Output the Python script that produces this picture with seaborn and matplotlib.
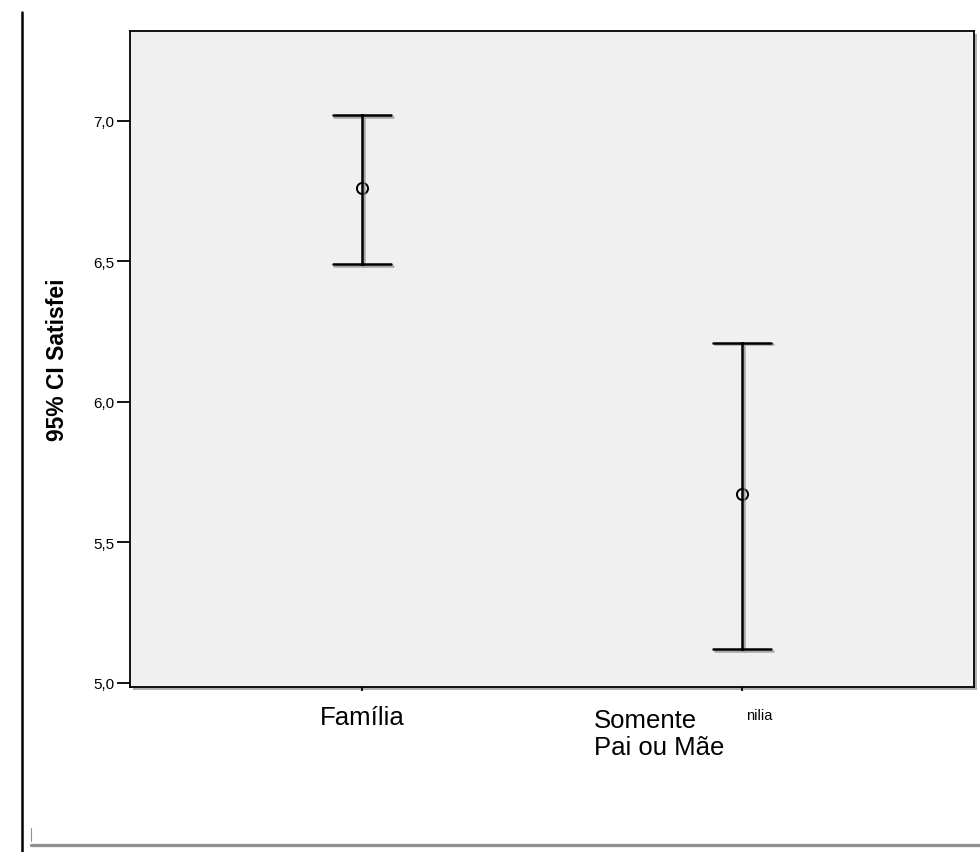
import pandas as pd
import matplotlib
matplotlib.use("Agg")
import matplotlib.pyplot as plt
import matplotlib.patheffects as pe
from matplotlib.patches import Rectangle
from matplotlib.lines import Line2D
from matplotlib.ticker import FuncFormatter
import seaborn as sns

# data (95% CI of "Satisfei" per family type)
groups = ["Família", "Somente\nPai ou Mãe"]
ci_lower = [6.49, 5.12]
means = [6.76, 5.67]
ci_upper = [7.02, 6.21]
y_ticks = [5.0, 5.5, 6.0, 6.5, 7.0]
y_label = "95% CI Satisfei"
stray_text = "nilia"

# long table: lower / mean / upper per group -> median + full range gives mean and CI
rows = []
for g, lo, m, hi in zip(groups, ci_lower, means, ci_upper):
    for v in (lo, m, hi):
        rows.append({"grupo": g, "valor": v})
df = pd.DataFrame(rows)

sns.set_theme(style="white")
plt.rcParams["font.family"] = ["Liberation Sans", "DejaVu Sans"]
plt.rcParams["text.color"] = "black"
plt.rcParams["axes.labelcolor"] = "black"

fig = plt.figure(figsize=(9.8, 8.53), dpi=100)
ax = fig.add_axes([130 / 980, 165 / 853, 844 / 980, 656 / 853])
ax.set_facecolor("#f0f0f0")

shadow = pe.SimpleLineShadow(offset=(1.2, -1.2), shadow_color="#888888", alpha=0.7)
sns.pointplot(
    data=df, x="grupo", y="valor", order=groups,
    estimator="median", errorbar=("pi", 100),
    color="black", markers="o", linestyles="none",
    capsize=0.153, markersize=8, markerfacecolor="none", markeredgewidth=1.4,
    err_kws={"linestyle": "-", "linewidth": 1.8, "path_effects": [shadow, pe.Normal()]},
    ax=ax,
)

ax.set_xlim(-0.61, 1.61)
ax.set_ylim(4.985, 7.319)
ax.set_yticks(y_ticks)
ax.yaxis.set_major_formatter(FuncFormatter(lambda v, p: f"{v:.1f}".replace(".", ",")))
ax.tick_params(axis="y", direction="out", length=9.5, width=1.3, pad=2,
               labelsize=11, colors="black", left=True)
ax.tick_params(axis="x", direction="out", length=3, width=1.3, labelbottom=False,
               bottom=True, colors="black")
ax.set_xlabel("")
ax.set_ylabel(y_label, fontsize=16.5, fontweight="bold", color="black")
ax.yaxis.set_label_coords(-0.0723, 0.5)
for s in ax.spines.values():
    s.set_visible(True)
    s.set_color("black")
    s.set_linewidth(1.3)

# category labels under the axis
ax.annotate(groups[0], xy=(0, 0), xycoords=("data", "axes fraction"),
            xytext=(0, -27), textcoords="offset points",
            ha="center", va="baseline", fontsize=18.5, color="black")
ax.annotate(groups[1], xy=(1, 0), xycoords=("data", "axes fraction"),
            xytext=(-106.5, -48.5), textcoords="offset points",
            ha="left", va="baseline", fontsize=18.5, linespacing=1.2, color="black")
fig.text(746 / 980, 133 / 853, stray_text, fontsize=10.5, ha="left", va="baseline",
         color="black")

# drop shadow behind the plot frame
fig.add_artist(Rectangle((132.5 / 980, 162.5 / 853), 844 / 980, 656 / 853,
                         transform=fig.transFigure, facecolor="#b0b0b0",
                         edgecolor="none", zorder=-1))

# page decorations
fig.add_artist(Line2D([22 / 980, 22 / 980], [0, 840 / 853], color="black", linewidth=1.8))
fig.add_artist(Line2D([31 / 980, 1.0], [7 / 853, 7 / 853], color="#909090", linewidth=2.4))
fig.add_artist(Line2D([30.5 / 980, 30.5 / 980], [11 / 853, 24 / 853], color="#909090", linewidth=0.8))

fig.savefig("out.png", dpi=100)
